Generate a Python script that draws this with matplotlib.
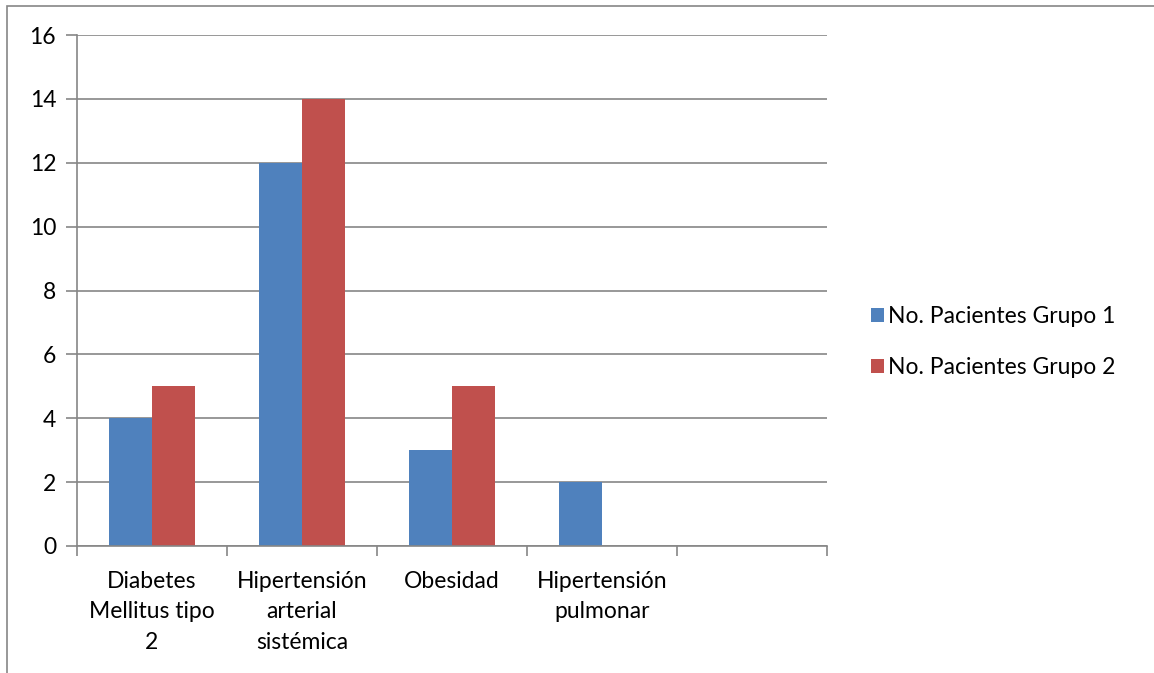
import numpy as np
import matplotlib.pyplot as plt
from matplotlib.patches import Rectangle

categories = ['Diabetes\nMellitus tipo\n2', 'Hipertensión\narterial\nsistémica',
              'Obesidad', 'Hipertensión\npulmonar', '']
grupo1 = [4, 12, 3, 2, 0]
grupo2 = [5, 14, 5, 0, 0]
series_names = ['No. Pacientes Grupo 1', 'No. Pacientes Grupo 2']
yticks = [0, 2, 4, 6, 8, 10, 12, 14, 16]

plt.rcParams['font.family'] = ['Lato', 'DejaVu Sans']
grid_color = '#868686'
fs = 16.5

fig = plt.figure(figsize=(11.54, 6.73), dpi=100)
ax = fig.add_axes([77 / 1154, 1 - 546 / 673, 750 / 1154, 511 / 673])

# outer chart frame (only top and left edges show)
fig.patches.append(Rectangle((7 / 1154, -0.1), 1.2, 1 - 6 / 673 + 0.1,
                             transform=fig.transFigure, fill=False,
                             edgecolor=grid_color, linewidth=1.2))

x = np.arange(len(categories)) + 0.5
w = 0.287
ax.bar(x - w / 2, grupo1, width=w, color='#4F81BD', label=series_names[0], zorder=2)
ax.bar(x + w / 2, grupo2, width=w, color='#C0504D', label=series_names[1], zorder=2)

ax.set_xlim(0, len(categories))
ax.set_ylim(0, 16)
ax.set_yticks(yticks)
ax.yaxis.grid(True, color=grid_color, linewidth=1.2, zorder=0)

ax.set_xticks(np.arange(len(categories) + 1))
ax.set_xticklabels([])
ax.set_xticks(x, minor=True)
ax.set_xticklabels(categories, minor=True, fontsize=fs, linespacing=1.55, va='top')
ax.tick_params(axis='x', which='minor', length=0, pad=18)
ax.tick_params(axis='x', which='major', length=7, color=grid_color, width=1.2)
ax.tick_params(axis='y', length=8, color=grid_color, width=1.2, labelsize=fs, pad=7)

for side in ['top', 'right']:
    ax.spines[side].set_visible(False)
for side in ['left', 'bottom']:
    ax.spines[side].set_color(grid_color)
    ax.spines[side].set_linewidth(1.2)

fig.legend(loc='center left', bbox_to_anchor=(850 / 1154, 1 - 342 / 673),
           frameon=False, fontsize=fs, handlelength=0.6, handleheight=0.6,
           handletextpad=0.15, labelspacing=1.3)

fig.savefig('out.png', dpi=100)
